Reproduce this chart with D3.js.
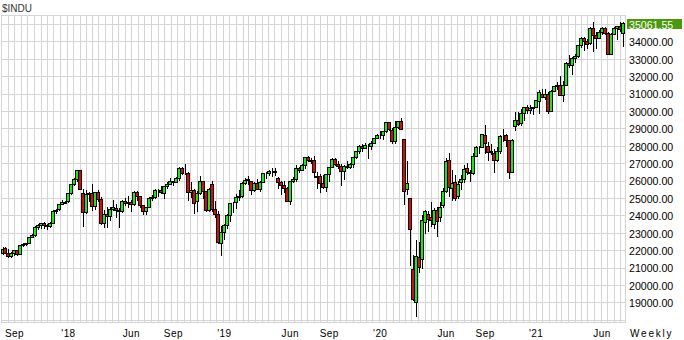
<!DOCTYPE html>
<html lang="en">
<head>
  <meta charset="UTF-8">
  <title>$INDU Weekly</title>
  <style>
    html, body { margin: 0; padding: 0; background: #fff; }
    svg { display: block; }
    .grade { stroke: #d4d4d4; shape-rendering: crispEdges; }
    .titulo { font: 10px "Liberation Sans", Arial, sans-serif; fill: #333; }
    .rotuloY { font: 10.6px "Liberation Sans", Arial, sans-serif; fill: #000; }
    .rotuloX { font: 10px "Liberation Sans", Arial, sans-serif; fill: #000; letter-spacing: 0.4px; }
    .pavio { stroke: #000; shape-rendering: crispEdges; }
    .corpo { stroke: #000; shape-rendering: crispEdges; }
  </style>
</head>
<body>
  <svg id="grafico"></svg>

  <script src="https://d3js.org/d3.v7.min.js"></script>
  <script>
    const symbol = "$INDU";
    const period = "Weekly";
    const firstWeek = new Date(2017, 7, 4); // friday of the first bar

    // weekly open / high / low / close, Aug 2017 .. Jul 2021
    const open = [
      21830, 22100, 21860, 21690, 21820, 21980, 21800, 22270, 22350, 22420, 22780, 22880, 23330, 23440, 23540, 23420, 23370, 23560, 24230, 24350, 24660, 24760,
      24810, 25310, 25800, 26100, 26600, 25300, 24200, 25220, 25300, 24530, 25330, 24940, 23560, 24100, 23940, 24370, 24450, 24300, 24260, 24840, 24720, 24750, 24640, 25320, 25100, 24590,
      24270, 24470, 25020, 25060, 25450, 25460, 25300, 25670, 25790, 25960, 25920, 26160, 26740, 26460, 26440, 25340, 25450, 24820, 25290, 25990, 25410, 24300, 25780, 24390, 24100, 22400,
      23060, 23430, 24000, 24700, 24740, 25060, 25100, 25880, 26090, 26000, 25450, 25850, 25500, 25930, 26420, 26410, 26560, 26540, 26150, 25940, 25770, 25580, 24820, 25980, 26090, 26720,
      26600, 26920, 27330, 27150, 27190, 26180, 26280, 25880, 25630, 26400, 26800, 27220, 26930, 26820, 26570, 26810, 26770, 26960, 27350, 27680, 28000, 27880, 28050, 28010, 28140, 28460,
      28640, 28630, 28820, 29350, 28900, 28260, 29100, 29400, 28400, 25500, 25000, 20900, 19000, 21600, 21500, 23600, 24100, 23900, 23500, 24300, 23900, 24600, 25380, 27200, 25600, 25900,
      25100, 25900, 26100, 26700, 26500, 26430, 27430, 27930, 27930, 28600, 28000, 27700, 27600, 27170, 27680, 28590, 28600, 28330, 26500, 29160, 29500, 29300, 29910, 30210, 30050, 30180, 30200,
      30600, 31000, 30800, 31000, 30000, 31150, 31460, 31490, 30930, 31500, 32780, 32630, 33070, 33150, 33800, 34200, 34040, 33880, 34780, 34380, 34200, 34530, 34760, 34480, 33290, 34430,
      34790, 34870, 34500
    ];
    const high = [
      22180, 22180, 22090, 21900, 22010, 21990, 22300, 22420, 22420, 22780, 22900, 23370, 23490, 23560, 23600, 23490, 23600, 24330, 24360, 24670, 24880, 24840,
      25300, 25800, 26150, 26620, 26610, 25520, 25430, 25370, 25800, 25350, 25450, 25050, 24300, 24500, 24480, 24860, 24660, 24400, 24870, 25000, 25090, 24900, 25400, 25400, 25130, 24600,
      24500, 25050, 25170, 25530, 25500, 25700, 25700, 25900, 26170, 26000, 26200, 26770, 26800, 26950, 26500, 25900, 25490, 25390, 26280, 26000, 25410, 25600, 25980, 24800, 24260, 23380,
      23520, 24060, 24730, 24740, 25240, 25440, 25900, 26150, 26240, 26000, 25900, 26110, 25950, 26440, 26480, 26600, 26700, 26700, 26200, 26000, 25990, 25630, 26000, 26180, 26900, 26800,
      26970, 27360, 27400, 27300, 27400, 26500, 26400, 26300, 26400, 26800, 27300, 27300, 27100, 26970, 26900, 27100, 27000, 27350, 27700, 28030, 28090, 28170, 28100, 28300, 28460, 28700,
      28870, 28870, 29370, 29370, 29000, 29400, 29450, 29570, 28400, 27100, 25020, 21700, 22600, 22450, 24000, 24300, 24250, 24760, 24400, 24500, 24760, 25600, 27300, 27580, 26600, 26300,
      26000, 26300, 26900, 27000, 26600, 27600, 28000, 27980, 28700, 29200, 28200, 28100, 27800, 27900, 28600, 28960, 28700, 28350, 28400, 29960, 29960, 30120, 30220, 30320, 30330, 30230, 30640,
      31200, 31270, 31280, 31100, 31200, 31460, 31640, 32000, 31700, 32800, 33230, 33100, 33250, 33820, 34250, 34260, 34150, 34800, 35100, 34530, 34630, 34850, 34850, 34520, 34500, 34800,
      34900, 35100, 35120
    ];
    const low = [
      21800, 21840, 21600, 21600, 21740, 21710, 21800, 22250, 22280, 22400, 22730, 22830, 23240, 23300, 23290, 23240, 23330, 23540, 24110, 24330, 24660, 24700,
      24740, 25200, 25740, 25950, 25500, 23360, 24120, 24800, 24300, 24380, 24830, 23500, 23340, 23340, 23760, 24300, 23900, 23340, 24200, 24600, 24500, 24240, 24620, 24880, 24480, 24080,
      24080, 24460, 24900, 25000, 25120, 25300, 25020, 25600, 25800, 25760, 25900, 26050, 26380, 26380, 24900, 25050, 24120, 24260, 25200, 25000, 24270, 24270, 24240, 23880, 22400, 21710,
      22640, 23300, 23700, 24200, 24450, 24890, 25030, 25800, 25800, 25200, 25400, 25500, 25400, 25920, 26140, 26300, 26250, 26300, 25600, 25220, 25350, 24800, 24680, 25900, 26000, 26500,
      26600, 26700, 27100, 27000, 26200, 25600, 25340, 25600, 25400, 26000, 26800, 26900, 26700, 25740, 26100, 26700, 26700, 26800, 27300, 27600, 27700, 27870, 27320, 27800, 28130, 28440,
      28420, 28400, 28780, 28900, 28170, 28170, 29000, 28960, 24680, 25200, 21150, 19120, 18210, 20740, 21000, 23000, 23100, 23400, 23300, 22790, 23700, 24500, 25360, 25100, 24900, 24900,
      25000, 25500, 25900, 26400, 26000, 26400, 27400, 27600, 27900, 27600, 27200, 27500, 26500, 27100, 27600, 28300, 28000, 26140, 26500, 28900, 29200, 29200, 29500, 29900, 29900, 29800, 30200,
      29880, 30800, 30700, 29860, 29980, 31150, 31260, 30900, 30550, 31500, 32500, 32100, 32800, 33100, 33700, 33500, 33600, 33870, 33470, 33600, 34200, 34400, 34400, 33270, 33290, 34400,
      34150, 34600, 33740
    ];
    const close = [
      22092, 21858, 21675, 21814, 21988, 21798, 22268, 22350, 22405, 22773, 22871, 23329, 23434, 23539, 23422, 23358, 23558, 24231, 24329, 24651, 24754, 24719,
      25295, 25803, 26071, 26617, 25521, 24190, 25219, 25310, 24538, 25336, 24946, 23533, 24103, 23933, 24360, 24463, 24311, 24263, 24831, 24715, 24753, 24635, 25317, 25090, 24580, 24271,
      24456, 25019, 25058, 25451, 25463, 25313, 25669, 25790, 25965, 25917, 26155, 26743, 26458, 26447, 25340, 25444, 24688, 25271, 25989, 25413, 24286, 25538, 24389, 24101, 22445, 23062,
      23433, 23996, 24706, 24737, 25064, 25106, 25883, 26031, 26026, 25450, 25849, 25502, 25929, 26425, 26412, 26559, 26543, 26505, 25942, 25764, 25586, 24815, 25984, 26090, 26719, 26600,
      26922, 27332, 27154, 27192, 26485, 26287, 25886, 25629, 26403, 26797, 27220, 26935, 26820, 26573, 26817, 26770, 26958, 27347, 27681, 28005, 27876, 28051, 28015, 28135, 28455, 28645,
      28634, 28824, 29348, 28990, 28256, 29102, 29398, 28992, 25409, 25864, 23186, 19174, 21637, 21053, 23719, 24242, 23775, 23724, 24331, 23685, 24465, 25383, 27111, 25606, 25871, 25016,
      25827, 26075, 26672, 26470, 26428, 27433, 27931, 27930, 28654, 28133, 27666, 27657, 27174, 27683, 28587, 28606, 28336, 26502, 28323, 29480, 29263, 29910, 30218, 30046, 30179, 30200, 30606,
      31098, 30814, 30997, 29983, 31148, 31458, 31494, 30932, 31496, 32779, 32628, 33073, 33153, 33801, 34200, 34043, 33875, 34778, 34382, 34208, 34529, 34756, 34480, 33290, 34433, 34786,
      34870, 34687, 35061.55
    ];

    const yTicks = [19000, 20000, 21000, 22000, 23000, 24000, 25000, 26000, 27000, 28000, 29000, 30000, 31000, 32000, 33000, 34000];
    const xLabelMonths = ["2017-09", "2018-01", "2018-06", "2018-09", "2019-01", "2019-06", "2019-09", "2020-01", "2020-06", "2020-09", "2021-01", "2021-06"];
    const xLabels = ["Sep", "'18", "Jun", "Sep", "'19", "Jun", "Sep", "'20", "Jun", "Sep", "'21", "Jun"];

    function desenha() {
      const largura = 684;
      const altura = 340;
      const area = { left: 1, right: 625, top: 15, bottom: 322 };
      const n = close.length;
      const semanas = d3.range(n).map(i => d3.timeDay.offset(firstWeek, 7 * i));

      const svg = d3.select('#grafico').attr('width', largura).attr('height', altura);

      const x = d3.scaleTime().domain([semanas[0], semanas[n - 1]]).range([2.5, 623]);
      const y = d3.scaleLinear().domain([19000, 35000]).range([302.3, 24]);

      // horizontal grid, every 1000
      const linhasH = d3.range(18000, 36000, 1000).filter(v => y(v) > area.top && y(v) < area.bottom);
      svg.selectAll('.gradeH')
        .data(linhasH)
        .enter()
        .append('line')
        .classed('grade', true)
        .attr('x1', area.left).attr('x2', area.right)
        .attr('y1', d => Math.round(y(d)) + 0.5)
        .attr('y2', d => Math.round(y(d)) + 0.5);

      // vertical grid, twice a month
      const meses = d3.timeMonth.range(d3.timeMonth.floor(semanas[0]), semanas[n - 1]);
      const datasV = [];
      meses.forEach(m => { datasV.push(m); datasV.push(d3.timeDay.offset(m, 15)); });
      svg.selectAll('.gradeV')
        .data(datasV.filter(d => x(d) > area.left + 1 && x(d) < area.right - 1))
        .enter()
        .append('line')
        .classed('grade', true)
        .attr('x1', d => Math.round(x(d)) + 0.5)
        .attr('x2', d => Math.round(x(d)) + 0.5)
        .attr('y1', area.top).attr('y2', area.bottom);

      svg.append('rect')
        .classed('grade', true)
        .attr('x', area.left + 0.5).attr('y', area.top + 0.5)
        .attr('width', area.right - area.left).attr('height', area.bottom - area.top)
        .attr('fill', 'none');

      // candles
      const cx = i => Math.round(x(semanas[i]));
      svg.selectAll('.pavio')
        .data(d3.range(n))
        .enter()
        .append('line')
        .classed('pavio', true)
        .attr('x1', i => cx(i) + 0.5).attr('x2', i => cx(i) + 0.5)
        .attr('y1', i => Math.round(y(high[i])))
        .attr('y2', i => Math.round(y(low[i])) + 1);

      svg.selectAll('.corpo')
        .data(d3.range(n))
        .enter()
        .append('rect')
        .classed('corpo', true)
        .attr('x', i => cx(i) - 1.5)
        .attr('width', 3)
        .attr('y', i => Math.round(y(Math.max(open[i], close[i]))) + 0.5)
        .attr('height', i => Math.round(y(Math.min(open[i], close[i]))) - Math.round(y(Math.max(open[i], close[i]))))
        .attr('fill', i => close[i] >= open[i] ? '#00fa00' : '#f00000');

      // y labels
      svg.selectAll('.rotuloY')
        .data(yTicks)
        .enter()
        .append('text')
        .classed('rotuloY', true)
        .attr('x', 629)
        .attr('y', d => y(d) + 4.8)
        .text(d => d3.format('.2f')(d));

      const ultimo = close[n - 1];
      svg.append('rect')
        .attr('x', 627).attr('y', Math.round(y(ultimo)) - 4)
        .attr('width', 55).attr('height', 10)
        .attr('fill', '#4a980c');
      svg.append('text')
        .classed('rotuloY', true)
        .attr('x', 629).attr('y', y(ultimo) + 5.8)
        .style('fill', '#fff')
        .text(d3.format('.2f')(ultimo));

      // x labels, at the first bar of the month
      const parseMes = d3.timeParse('%Y-%m');
      svg.selectAll('.rotuloX')
        .data(xLabelMonths)
        .enter()
        .append('text')
        .classed('rotuloX', true)
        .attr('text-anchor', 'middle')
        .attr('x', (d, k) => {
          const m = parseMes(d);
          const i = semanas.findIndex(s => s >= m);
          return x(semanas[i]);
        })
        .attr('y', 336.5)
        .text((d, k) => xLabels[k]);

      svg.append('text')
        .classed('rotuloX', true)
        .attr('x', 630).attr('y', 336.5)
        .style('letter-spacing', '1.8px')
        .text(period);

      svg.append('text')
        .classed('titulo', true)
        .attr('x', 2).attr('y', 11.5)
        .text(symbol);
    }

    desenha();
  </script>
</body>
</html>
